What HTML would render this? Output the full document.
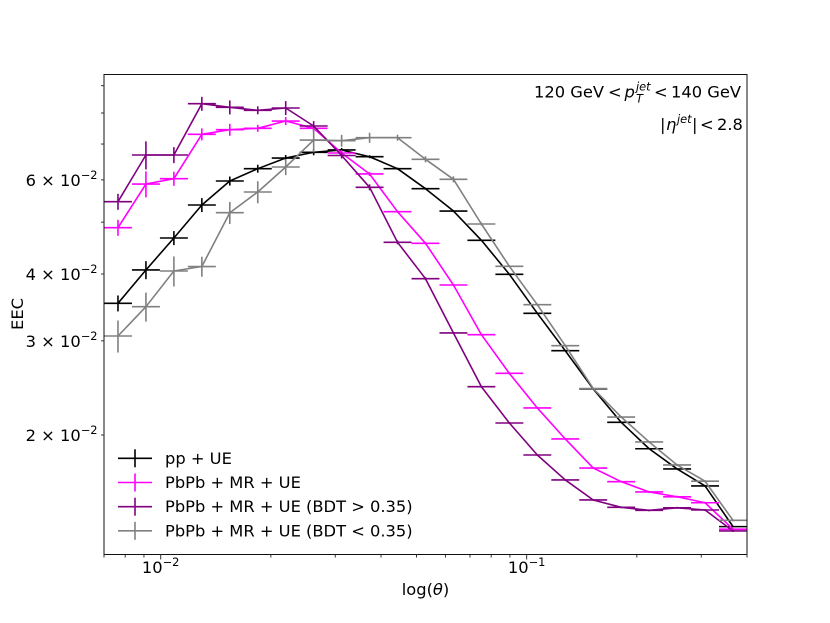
<!DOCTYPE html>
<html>
<head>
<meta charset="utf-8">
<title>EEC chart</title>
<style>
html,body{margin:0;padding:0;background:#fff;}
svg{display:block;}
text{font-family:"DejaVu Sans","Liberation Sans",sans-serif;fill:#000;}
</style>
</head>
<body>
<svg id="chart" width="830" height="623" viewBox="0 0 830 623" xmlns="http://www.w3.org/2000/svg"></svg>
<script>
const binEdges = [0.007,0.008346,0.009951,0.011865,0.014147,0.016867,0.020111,0.023979,0.02859,0.034089,0.040644,0.04846,0.057779,0.068891,0.08214,0.097936,0.11677,0.139226,0.166001,0.197925,0.235988,0.281371,0.335484,0.4];

const seriesLabels = ["pp + UE","PbPb + MR + UE","PbPb + MR + UE (BDT > 0.35)","PbPb + MR + UE (BDT < 0.35)"];
const seriesColors = ["#000000","#ff00ff","#800080","#808080"];

const ppValues = [0.03526,0.0407,0.04671,0.05384,0.0597,0.06295,0.06591,0.06756,0.06823,0.06628,0.06295,0.05775,0.05246,0.04625,0.03995,0.03377,0.02875,0.02438,0.02112,0.01885,0.01728,0.01606,0.01348];
const ppErrors = [0.00121,0.00158,0.00141,0.00162,0.00116,0.00108,0.00085,0.00087,0.00059,0.00043,0.00027,0.00025,0.00023,0.00012,0.0001,0.00009,0.00007,0.00006,0.00005,0.00005,0.00004,0.00004,0.00004];

const pbpbValues = [0.04883,0.05893,0.0603,0.07299,0.07445,0.0749,0.07729,0.0749,0.06735,0.06153,0.05231,0.04565,0.03815,0.0308,0.02608,0.02247,0.01966,0.01735,0.01636,0.01565,0.01533,0.01494,0.01333];
const pbpbErrors = [0.00168,0.0033,0.00182,0.00188,0.00192,0.00113,0.00133,0.00129,0.00087,0.00053,0.00022,0.0002,0.00016,0.00013,0.00011,0.0001,0.00008,0.00007,0.00007,0.00007,0.00007,0.00006,0.00006];

const bdtHighValues = [0.05461,0.06677,0.06677,0.08327,0.08199,0.08094,0.08175,0.07565,0.06663,0.0581,0.04585,0.0392,0.03103,0.02462,0.02106,0.01835,0.01648,0.01512,0.01465,0.01446,0.01462,0.01448,0.01323];
const bdtHighErrors = [0.00188,0.00403,0.0023,0.00251,0.00247,0.00139,0.00246,0.00163,0.00086,0.00075,0.00039,0.00025,0.00013,0.00011,0.00009,0.00008,0.00007,0.00006,0.00006,0.00006,0.00006,0.00006,0.00006];

const bdtLowValues = [0.03063,0.03475,0.04052,0.04131,0.05208,0.05694,0.06341,0.07122,0.07101,0.07193,0.07193,0.06555,0.06014,0.04961,0.04135,0.03505,0.02938,0.02443,0.02161,0.01941,0.01758,0.01639,0.01385];
const bdtLowErrors = [0.00211,0.00217,0.00262,0.00178,0.00247,0.0027,0.00218,0.00368,0.00183,0.00155,0.00093,0.00085,0.00078,0.00032,0.00018,0.00015,0.00013,0.0001,0.00009,0.00008,0.00008,0.00007,0.00006];

const xMajorTicks = [0.01,0.1];
const xMajorLabels = ["\u22122","\u22121"];
const xMinorTicks = [0.007,0.008,0.009,0.02,0.03,0.04,0.05,0.06,0.07,0.08,0.09,0.2,0.3,0.4];
const yTicks = [0.02,0.03,0.04,0.05,0.06,0.07,0.08,0.09];
const yTickLabels = ["2","3","4","","6","","",""];

const NS = "http://www.w3.org/2000/svg";
const svg = document.getElementById("chart");
const plot = {left:104, right:747, top:74.5, bottom:554.5};
const xDomain = [0.007,0.4];
const yRef = {value:0.02, pixel:435, perDecade:534.8};
const FONT = 16.3;
const SUP = 11.4;
const LW = 1.6;

function xScale(v){
  return plot.left + (Math.log10(v) - Math.log10(xDomain[0])) / (Math.log10(xDomain[1]) - Math.log10(xDomain[0])) * (plot.right - plot.left);
}
function yScale(v){
  return yRef.pixel - (Math.log10(v) - Math.log10(yRef.value)) * yRef.perDecade;
}
function make(tag, attrs, parent){
  const el = document.createElementNS(NS, tag);
  for (const k in attrs) el.setAttribute(k, attrs[k]);
  (parent || svg).appendChild(el);
  return el;
}
function seg(parent, x1, y1, x2, y2, color, width){
  return make("line", {x1:x1, y1:y1, x2:x2, y2:y2, stroke:color, "stroke-width":width}, parent);
}
function supLabel(parent, x, y, anchor, base, sup){
  const t = make("text", {x:x, y:y, "text-anchor":anchor, "font-size":FONT}, parent);
  t.appendChild(document.createTextNode(base));
  const s = make("tspan", {dy:-7, "font-size":SUP}, t);
  s.textContent = sup;
  return t;
}

/* series */
const allSeries = [
  {name:"pp-ue", values:ppValues, errors:ppErrors},
  {name:"pbpb-mr-ue", values:pbpbValues, errors:pbpbErrors},
  {name:"pbpb-bdt-high", values:bdtHighValues, errors:bdtHighErrors},
  {name:"pbpb-bdt-low", values:bdtLowValues, errors:bdtLowErrors}
];
allSeries.forEach(function(s, si){
  const color = seriesColors[si];
  const g = make("g", {});
  
  
  const pts = s.values.map(function(v, i){
    const cx = (xScale(binEdges[i]) + xScale(binEdges[i+1])) / 2;
    return cx.toFixed(2) + "," + yScale(v).toFixed(2);
  }).join(" ");
  const line = make("polyline", {points:pts, fill:"none", stroke:color, "stroke-width":LW, "stroke-linejoin":"round"}, g);
  
  
  s.values.forEach(function(v, i){
    const x0 = xScale(binEdges[i]), x1 = xScale(binEdges[i+1]), cx = (x0 + x1) / 2, y = yScale(v);
    const mark = make("g", {}, g);
    
    
    seg(mark, x0, y, x1, y, color, LW);
    seg(mark, cx, yScale(v - s.errors[i]), cx, yScale(v + s.errors[i]), color, LW);
  });
});

/* axes */
const frame = make("rect", {x:plot.left, y:plot.top, width:plot.right-plot.left, height:plot.bottom-plot.top, fill:"none", stroke:"#111", "stroke-width":1});



const xAxis = make("g", {});


xMinorTicks.forEach(function(v){
  const t = seg(xAxis, xScale(v), plot.bottom, xScale(v), plot.bottom + 3, "#333", 1);
  
  
});
xMajorTicks.forEach(function(v, i){
  const t = seg(xAxis, xScale(v), plot.bottom, xScale(v), plot.bottom + 5, "#333", 1);
  
  
  const l = supLabel(xAxis, xScale(v), 573, "middle", "10", xMajorLabels[i]);
  
  
});
const xTitle = make("text", {x:425.5, y:595, "text-anchor":"middle", "font-size":FONT}, xAxis);


xTitle.appendChild(document.createTextNode("log("));
const theta = make("tspan", {"font-style":"italic"}, xTitle);
theta.textContent = "\u03b8";
xTitle.appendChild(document.createTextNode(")"));

const yAxis = make("g", {});


yTicks.forEach(function(v, i){
  const t = seg(yAxis, plot.left - 3, yScale(v), plot.left, yScale(v), "#333", 1);
  
  
  if (yTickLabels[i]) {
    const l = supLabel(yAxis, 97.5, yScale(v) + 6, "end", yTickLabels[i] + " \u00d7 10", "\u22122");
    
    
  }
});
const yTitle = make("text", {x:0, y:0, transform:"translate(23,314) rotate(-90)", "text-anchor":"middle", "font-size":FONT}, yAxis);


yTitle.textContent = "EEC";

/* legend */
const legend = make("g", {});


const legendRowY = [458.3,482.5,506.7,530.8];
seriesLabels.forEach(function(label, i){
  const row = make("g", {}, legend);
  
  
  seg(row, 118, legendRowY[i], 152, legendRowY[i], seriesColors[i], LW);
  seg(row, 135, legendRowY[i] - 9, 135, legendRowY[i] + 9, seriesColors[i], LW);
  const t = make("text", {x:165, y:legendRowY[i] + 5.5, "font-size":FONT}, row);
  t.textContent = label;
});

/* annotations */
function parts(parent, list){
  const t = make("text", {"font-size":FONT}, parent);
  list.forEach(function(p){
    const s = make("tspan", {x:p[1], y:p[2]}, t);
    if (p[3]) s.setAttribute("font-size", p[3]);
    if (p[4]) s.setAttribute("font-style", "italic");
    s.textContent = p[0];
  });
  return t;
}
const kin = parts(svg, [
  ["120 GeV",534,97.5],["<",608,97.5],["p",624.5,97.5,0,true],["jet",636,90.5,SUP,true],["T",636,102.5,SUP,true],["<",654,97.5],["140 GeV",671,97.5]
]);


const eta = parts(svg, [
  ["|",660,130],["\u03b7",666,130,0,true],["jet",677,123,SUP,true],["|",692,130],["<",700,130],["2.8",717,130]
]);


</script>
</body>
</html>
